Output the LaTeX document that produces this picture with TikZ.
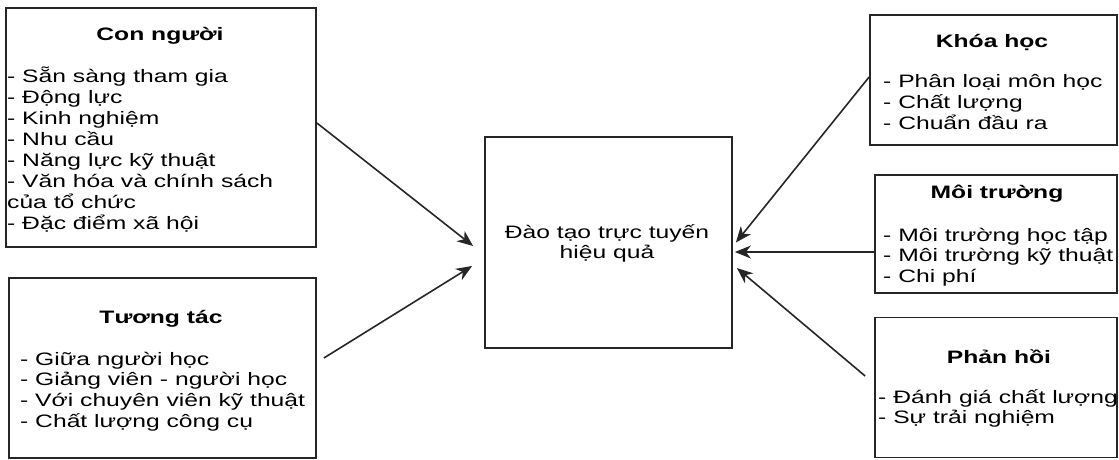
\documentclass[tikz,border=0pt]{standalone}
\usepackage{fontspec}
\setmainfont[FakeStretch=1.37]{Liberation Sans}
\usetikzlibrary{arrows.meta}
\begin{document}
\begin{tikzpicture}[x=1pt,y=-1pt,
  box/.style={draw=black!85, line width=1.8pt, rectangle, inner sep=0pt},
  ttl/.style={font=\fontsize{18}{21}\selectfont\bfseries, anchor=base, inner sep=0pt},
  itm/.style={font=\fontsize{18}{21}\selectfont, anchor=base west, inner sep=0pt},
  ctr/.style={font=\fontsize{18}{21}\selectfont, anchor=base, inner sep=0pt},
  arr/.style={draw=black!85, line width=1.6pt, -{Stealth[length=16pt,width=13pt,inset=5pt]}}]
\useasboundingbox (0,0) rectangle (1119,459);

% frames
\node[box, minimum width=310pt, minimum height=239pt] (b1) at (161,127.5) {};
\node[box, minimum width=307pt, minimum height=180pt] (b2) at (162.5,368) {};
\node[box, minimum width=247pt, minimum height=211pt] (c)  at (608.5,242.5) {};
\node[box, minimum width=247pt, minimum height=130pt] (k)  at (993.5,80) {};
\node[box, minimum width=242pt, minimum height=118pt] (m)  at (996,234) {};
\node[box, minimum width=242pt, minimum height=140pt] (p)  at (996,387.5) {};

% Con người
\node[ttl] (b1t) at (160,40) {Con người};
\foreach \t [count=\i] in {- Sẵn sàng tham gia, - Động lực, - Kinh nghiệm, - Nhu cầu,
  - Năng lực kỹ thuật, - Văn hóa và chính sách, của tổ chức, - Đặc điểm xã hội}
  \node[itm, name=b1-\i] at (7,{82+21*(\i-1)}) {\t};

% Tương tác
\node[ttl] (b2t) at (161,323) {Tương tác};
\foreach \t [count=\i] in {- Giữa người học, - Giảng viên - người học,
  - Với chuyên viên kỹ thuật, - Chất lượng công cụ}
  \node[itm, name=b2-\i] at (20,{365+20.7*(\i-1)}) {\t};

% centre
\node[ctr] (c1) at (607,238) {Đào tạo trực tuyến};
\node[ctr] (c2) at (607,258) {hiệu quả};

% Khóa học
\node[ttl] (kt) at (992,47) {Khóa học};
\foreach \t [count=\i] in {- Phân loại môn học, - Chất lượng, - Chuẩn đầu ra}
  \node[itm, name=k-\i] at (883,{87+21*(\i-1)}) {\t};

% Môi trường
\node[ttl] (mt) at (997,198) {Môi trường};
\foreach \t [count=\i] in {- Môi trường học tập, - Môi trường kỹ thuật, - Chi phí}
  \node[itm, name=m-\i] at (883,{241+20.5*(\i-1)}) {\t};

% Phản hồi
\node[ttl] (pt) at (999,363) {Phản hồi};
\foreach \t [count=\i] in {- Đánh giá chất lượng, - Sự trải nghiệm}
  \node[itm, name=p-\i] at (878,{403+20*(\i-1)}) {\t};

% connectors
\draw[arr] ([yshift=4.5pt]b1.east) -- ([xshift=-11pt,yshift=-3.5pt]c.west);
\draw[arr] ([xshift=7pt,yshift=10pt]b2.east) -- ([xshift=-12pt,yshift=-23.5pt]c.west);
\draw[arr] ([yshift=3pt]k.west) -- ([xshift=3pt]c.east);
\draw[arr] ([yshift=-18pt]m.west) -- ([xshift=2pt,yshift=-9.5pt]c.east);
\draw[arr] ([xshift=-9pt,yshift=11.5pt]p.west) -- ([xshift=4pt,yshift=-25.5pt]c.east);
\end{tikzpicture}
\end{document}
